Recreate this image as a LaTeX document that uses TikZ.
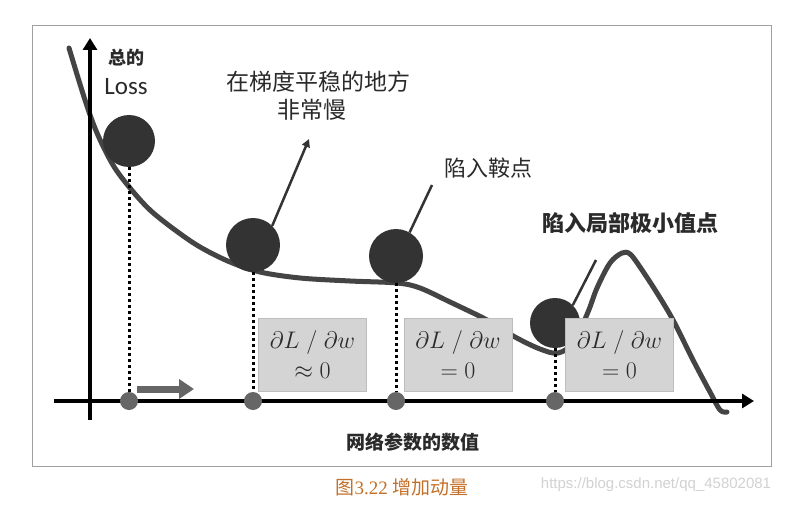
\RequirePackage{fix-cm}
\documentclass[tikz,border=0pt]{standalone}
\usepackage{fontspec}
\setmainfont{Liberation Serif}
\newfontfamily\cjk{Noto Sans CJK SC}
\newfontfamily\carl{Carlito}
\newfontfamily\lsans{Liberation Sans}
\usetikzlibrary{arrows.meta}
\definecolor{ballc}{HTML}{333333}
\definecolor{curvec}{HTML}{444444}
\definecolor{dotc}{HTML}{666666}
\definecolor{boxc}{HTML}{D4D4D4}
\definecolor{boxd}{HTML}{BDBDBD}
\definecolor{framec}{HTML}{A0A0A0}
\definecolor{txtc}{HTML}{2A2A2A}
\definecolor{capc}{RGB}{196,112,40}
\definecolor{wmc}{HTML}{D2D2D2}
\begin{document}
\begin{tikzpicture}[x=1pt,y=-1pt,
  ball/.style={circle,fill=ballc,inner sep=0pt},
  gdot/.style={circle,fill=dotc,minimum size=18pt,inner sep=0pt},
  vline/.style={line width=3pt,dash pattern=on 3pt off 3pt},
  gradbox/.style={draw=boxd,line width=1pt,fill=boxc,minimum width=108pt,minimum height=73pt,inner sep=0pt,align=center,text=txtc,font=\fontsize{24}{30}\selectfont},
  ptr/.style={line width=2.5pt,draw=ballc},
  axis/.style={line width=4pt,draw=black,-{Triangle[length=12pt,width=14pt]}},
  curve/.style={line width=5pt,draw=curvec,line cap=round,line join=round},
  lbl/.style={text=txtc,inner sep=0pt},
]
\useasboundingbox (0,0) rectangle (791,505);
\fill[white] (0,0) rectangle (791,505);
% frame
\draw[framec,line width=1pt] (32,26) rectangle (771,466);

% curve
\draw[curve] plot[smooth,tension=0.55] coordinates {(69,48) (85,100) (97,133) (113,165) (130,188) (150,210) (175,230) (200,247) (230,262) (260,272) (300,278) (350,281) (397,283) (420,288) (450,302) (487,320) (515,337) (540,349) (558,353) (574,342) (588,312) (597,288) (610,263) (622,253) (630,254) (640,267) (657,293) (673,320) (693,360) (710,392) (720,410) (727,412)};

% axes
\coordinate (y0) at (90,420);
\coordinate (y1) at (90,38);
\coordinate (x0) at (54,401);
\coordinate (x1) at (754,401);
\draw[axis] (y0) -- (y1);
\draw[axis] (x0) -- (x1);

% balls
\node[ball,minimum size=52pt] (b1) at (129,141) {};
\node[ball,minimum size=54pt] (b2) at (253,245) {};
\node[ball,minimum size=54pt] (b3) at (396,256) {};
\node[ball,minimum size=50pt] (b4) at (555,323) {};

% axis dots
\node[gdot] (d1) at (129,401) {};
\node[gdot] (d2) at (253,401) {};
\node[gdot] (d3) at (396,401) {};
\node[gdot] (d4) at (555,401) {};

\draw[vline] (b1.south) -- (d1.north);
\draw[vline] (b2.south) -- (d2.north);
\draw[vline] (b3.south) -- (d3.north);
\draw[vline] (b4.south) -- (d4.north);

% gray arrow
\coordinate (ga1) at (137,389);
\coordinate (ga2) at (194,389);
\draw[line width=7pt,draw=dotc,-{Triangle[length=15pt,width=19pt]}] (ga1) -- (ga2);

% pointer lines
\coordinate (t2) at (309,139);
\coordinate (t3) at (432,185);
\coordinate (t4) at (596,260);
\draw[ptr,-{Triangle[length=8pt,width=8pt]}] (b2.45) -- (t2);
\draw[ptr] (b3.60) -- (t3);
\draw[ptr] (b4.45) -- (t4);

% gradient boxes
\node[gradbox] (g1) at (312.5,354.5) {$\partial L\;/\;\partial w$\\$\approx 0$};
\node[gradbox] (g2) at (458,354.5) {$\partial L\;/\;\partial w$\\$= 0$};
\node[gradbox] (g3) at (619.5,354.5) {$\partial L\;/\;\partial w$\\$= 0$};

% labels
\node[lbl,font=\cjk\bfseries\fontsize{18}{20}\selectfont] (lzong) at (126,58) {总的};
\node[lbl,font=\carl\fontsize{25}{27}\selectfont] (lloss) at (126,87) {Loss};
\node[lbl,font=\cjk\fontsize{23}{25}\selectfont] (lflat1) at (318,82) {在梯度平稳的地方};
\node[lbl,font=\cjk\fontsize{23}{25}\selectfont] (lflat2) at (312,110) {非常慢};
\node[lbl,font=\cjk\fontsize{22}{24}\selectfont] (lsaddle) at (488,168) {陷入鞍点};
\node[lbl,font=\cjk\bfseries\fontsize{22}{24}\selectfont] (llocal) at (630,223) {陷入局部极小值点};
\node[lbl,font=\cjk\bfseries\fontsize{19}{21}\selectfont] (lxaxis) at (413,442) {网络参数的数值};

% caption and watermark
\node[inner sep=0pt,text=capc,font=\fontsize{19}{21}\selectfont] (cap) at (402,487) {{\cjk 图}3.22 {\cjk 增加动量}};
\node[inner sep=0pt,text=wmc,font=\lsans\fontsize{15}{17}\selectfont] (wm) at (656,485) {https://blog.csdn.net/qq\_45802081};
\end{tikzpicture}
\end{document}
